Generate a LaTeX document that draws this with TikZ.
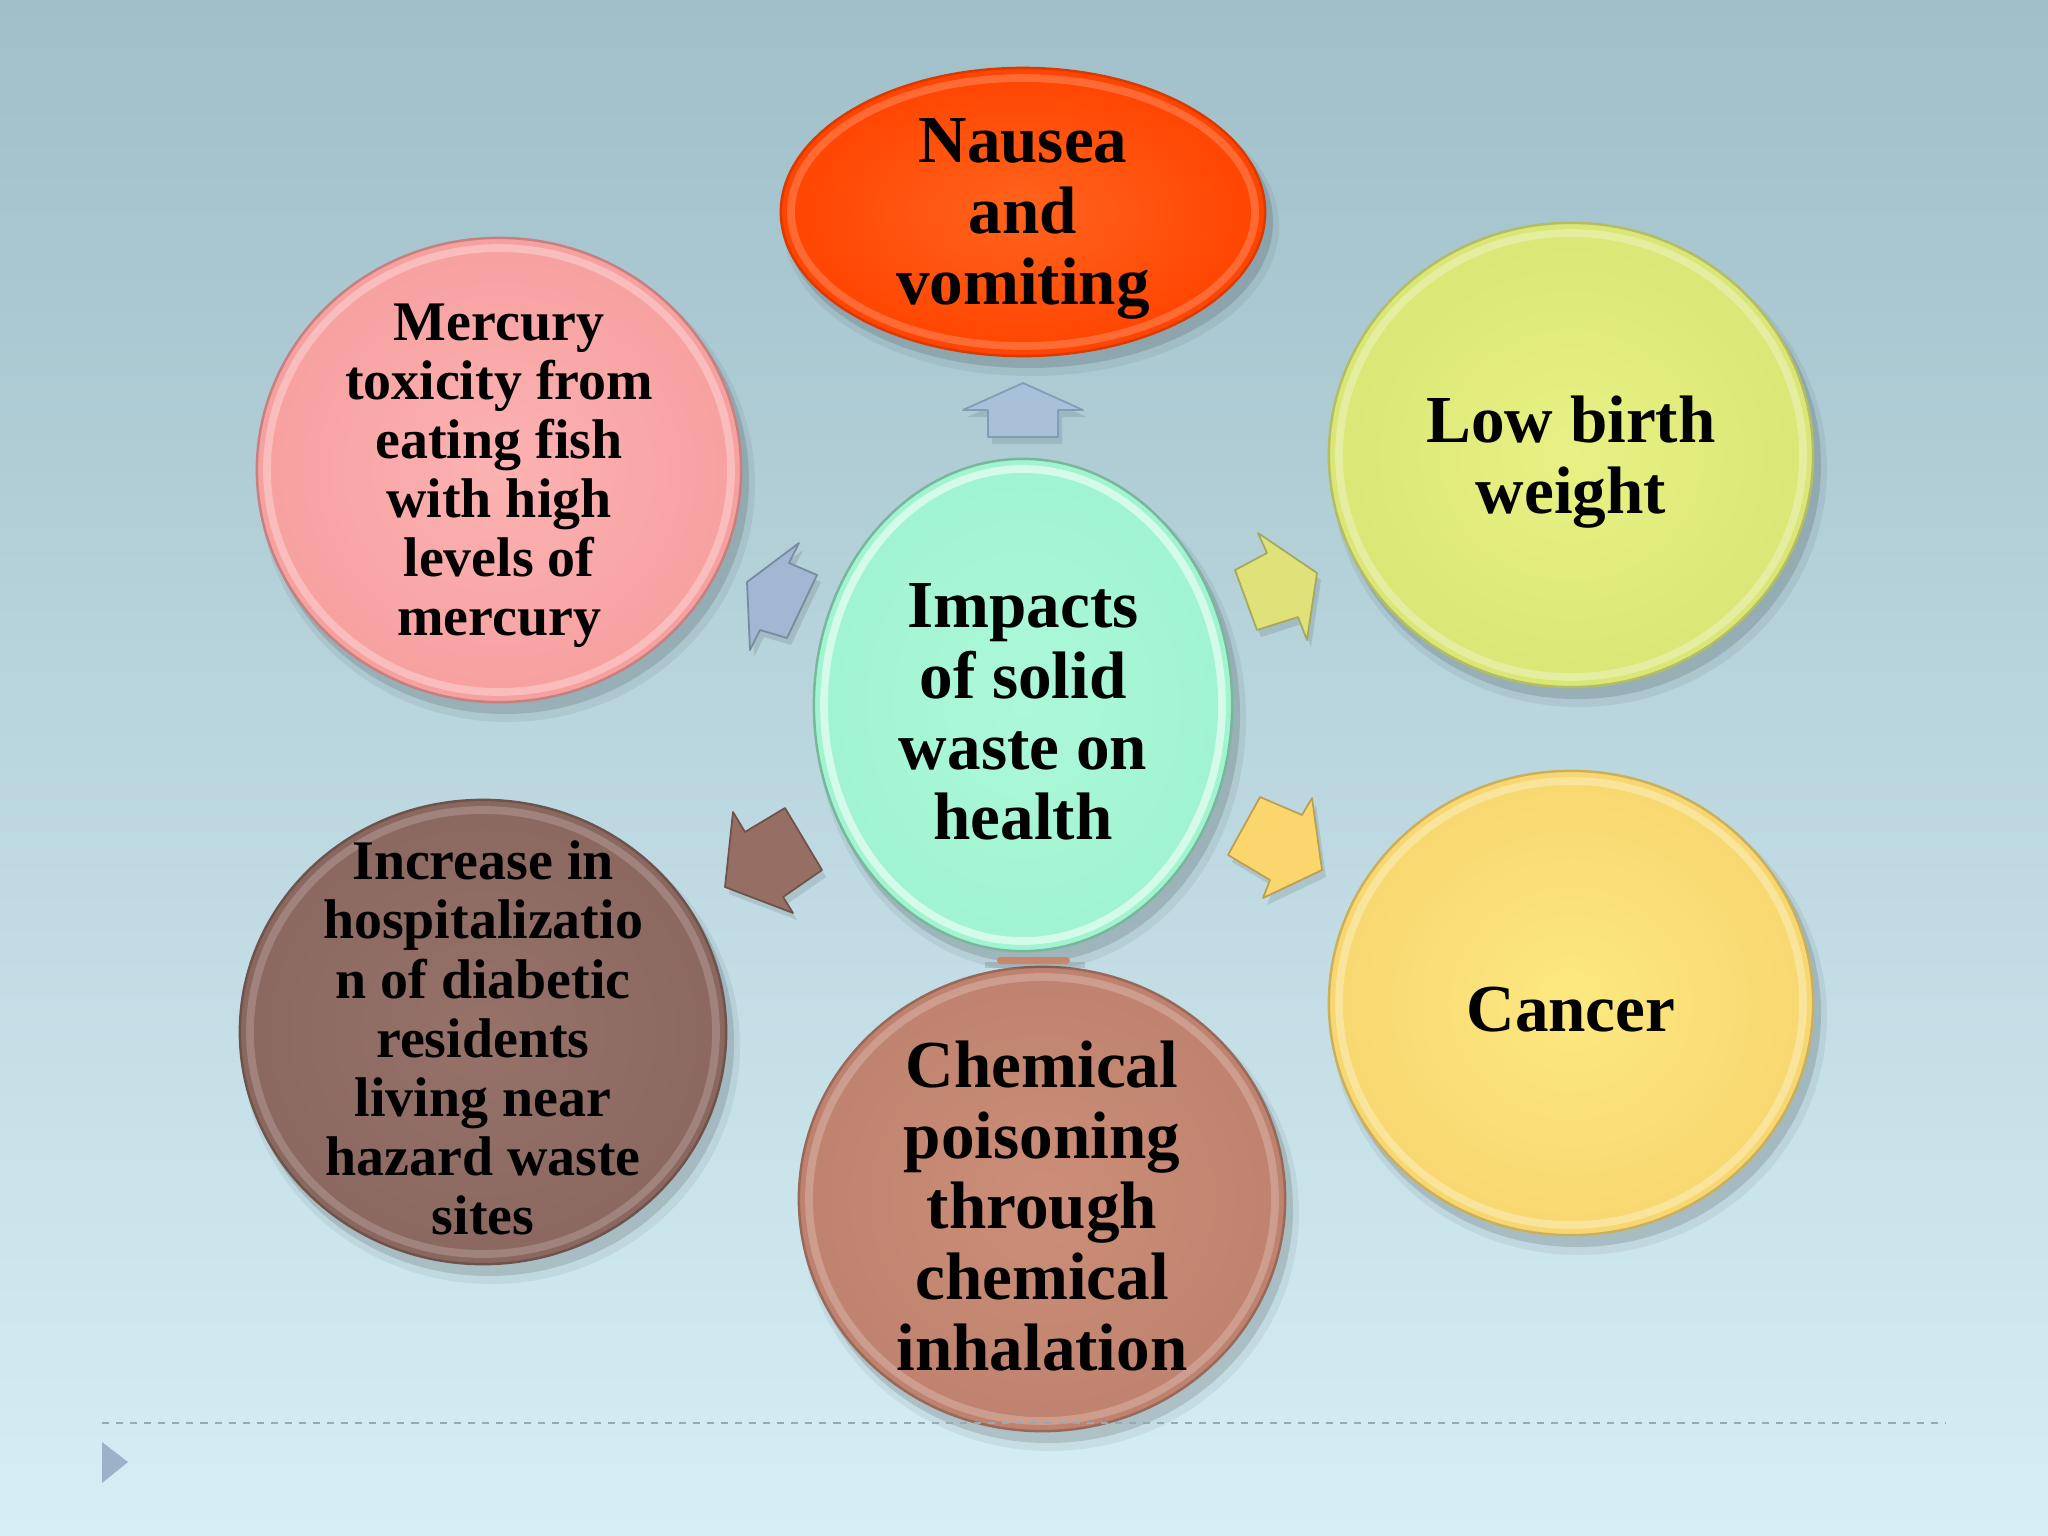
\documentclass[tikz,border=0pt]{standalone}
\usepackage{fontspec}
\setmainfont{Liberation Serif}
\usetikzlibrary{shapes.geometric}
\definecolor{bgtop}{RGB}{160,191,201}
\definecolor{bgbot}{RGB}{214,238,245}
\definecolor{nauseaC}{RGB}{255,68,0}
\definecolor{nauseaL}{RGB}{255,100,30}
\definecolor{mercC}{RGB}{247,160,160}
\definecolor{mercL}{RGB}{252,178,178}
\definecolor{lowC}{RGB}{218,230,118}
\definecolor{lowL}{RGB}{232,242,132}
\definecolor{centC}{RGB}{160,244,208}
\definecolor{centL}{RGB}{172,248,218}
\definecolor{incC}{RGB}{138,104,96}
\definecolor{incL}{RGB}{150,114,105}
\definecolor{chemC}{RGB}{190,130,110}
\definecolor{chemL}{RGB}{204,142,120}
\definecolor{cancC}{RGB}{248,215,112}
\definecolor{cancL}{RGB}{253,232,128}
\definecolor{arrBlue}{RGB}{168,192,216}
\definecolor{arrBlueD}{RGB}{130,155,182}
\definecolor{arrNW}{RGB}{160,184,210}
\definecolor{arrNE}{RGB}{222,226,120}
\definecolor{arrSE}{RGB}{250,214,108}
\definecolor{arrSW}{RGB}{150,110,100}
\definecolor{barC}{RGB}{200,135,105}
\definecolor{dashC}{RGB}{150,170,180}
\definecolor{triC}{RGB}{154,179,200}
\tikzset{
  bubble/.style={ellipse, inner sep=0pt, line width=0.7pt},
  shadowb/.style={fill=black, fill opacity=0.12},
  rim/.style={line width=2.2pt, draw opacity=0.3, draw=white},
  txtA/.style={align=center, inner sep=0pt, yshift=-0.07cm, font=\fontsize{19.1}{20.1}\selectfont\bfseries},
  txtB/.style={align=center, inner sep=0pt, yshift=-0.06cm, font=\fontsize{15.9}{16.8}\selectfont\bfseries},
  blockarrow/.style={line width=0.5pt, line join=round}
}
\begin{document}
\begin{tikzpicture}[x=0.01cm,y=-0.01cm]
\useasboundingbox (0,0) rectangle (2048,1536);
\shade[top color=bgtop,bottom color=bgbot] (0,0) rectangle (2048,1536);

% shadows
\foreach \cx/\cy/\rx/\ry in {1023/212/242/144, 499/470/242/232, 1571/455/242/232, 1023/705/209/246, 483/1032/243/232, 1042/1199/243/232, 1571/1003/242/232}{
  \fill[shadowb] (\cx+6,\cy+10) ellipse [x radius=\rx+2, y radius=\ry+2];
  \fill[black, opacity=0.06] (\cx+8,\cy+14) ellipse [x radius=\rx+6, y radius=\ry+6];
}

% bubbles
\node[bubble, draw=nauseaC!85!black, inner color=nauseaL, outer color=nauseaC, minimum width=4.84cm, minimum height=2.88cm] (nausea) at (1023,212) {};
\node[bubble, draw=mercC!80!black, inner color=mercL, outer color=mercC, minimum width=4.84cm, minimum height=4.64cm] (merc) at (499,470) {};
\node[bubble, draw=lowC!82!black, inner color=lowL, outer color=lowC, minimum width=4.84cm, minimum height=4.64cm] (low) at (1571,455) {};
\node[bubble, draw=centC!75!black, inner color=centL, outer color=centC, minimum width=4.18cm, minimum height=4.92cm] (cent) at (1023,705) {};
\node[bubble, draw=incC!80!black, inner color=incL, outer color=incC, minimum width=4.86cm, minimum height=4.64cm] (inc) at (483,1032) {};
\node[bubble, draw=chemC!80!black, inner color=chemL, outer color=chemC, minimum width=4.86cm, minimum height=4.64cm] (chem) at (1042,1199) {};
\node[bubble, draw=cancC!82!black, inner color=cancL, outer color=cancC, minimum width=4.84cm, minimum height=4.64cm] (canc) at (1571,1003) {};

% bevel rims
\draw[rim, draw opacity=0.2] (nausea.center) ellipse [x radius=232, y radius=134];
\draw[rim] (merc.center) ellipse [x radius=232, y radius=222];
\draw[rim] (low.center) ellipse [x radius=232, y radius=222];
\draw[rim, draw opacity=0.55] (cent.center) ellipse [x radius=199, y radius=236];
\draw[rim, draw opacity=0.18] (inc.center) ellipse [x radius=233, y radius=222];
\draw[rim, draw opacity=0.22] (chem.center) ellipse [x radius=233, y radius=222];
\draw[rim] (canc.center) ellipse [x radius=232, y radius=222];

% block arrows (shadows)
\begin{scope}[shift={(4,7)}]
\fill[black, opacity=0.1] (1023,383) -- (1083,410) -- (1058,410) -- (1058,437) -- (988,437) -- (988,410) -- (963,410) -- cycle;
\fill[black, opacity=0.1] (747,582) -- (799,543) -- (789,563) -- (817,575) -- (787,638) -- (760,630) -- (750,650) -- cycle;
\fill[black, opacity=0.1] (1317,573) -- (1307,640) -- (1298,617) -- (1257,630) -- (1235,570) -- (1267,553) -- (1258,533) -- cycle;
\fill[black, opacity=0.1] (1322,870) -- (1263,898) -- (1270,880) -- (1228,855) -- (1260,797) -- (1302,815) -- (1312,798) -- cycle;
\fill[black, opacity=0.1] (725,887) -- (733,812) -- (745,832) -- (785,808) -- (822,870) -- (783,897) -- (793,913) -- cycle;
\end{scope}
% block arrows
\filldraw[blockarrow, fill=arrBlue, draw=arrBlueD] (1023,383) -- (1083,410) -- (1058,410) -- (1058,437) -- (988,437) -- (988,410) -- (963,410) -- cycle;
\filldraw[blockarrow, fill=arrNW, draw=arrNW!75!black] (747,582) -- (799,543) -- (789,563) -- (817,575) -- (787,638) -- (760,630) -- (750,650) -- cycle;
\filldraw[blockarrow, fill=arrNE, draw=arrNE!75!black] (1317,573) -- (1307,640) -- (1298,617) -- (1257,630) -- (1235,570) -- (1267,553) -- (1258,533) -- cycle;
\filldraw[blockarrow, fill=arrSE, draw=arrSE!75!black] (1322,870) -- (1263,898) -- (1270,880) -- (1228,855) -- (1260,797) -- (1302,815) -- (1312,798) -- cycle;
\filldraw[blockarrow, fill=arrSW, draw=arrSW!75!black] (725,887) -- (733,812) -- (745,832) -- (785,808) -- (822,870) -- (783,897) -- (793,913) -- cycle;

% small flattened arrow between centre and chemical
\fill[black, opacity=0.12] (985,962) rectangle (1085,968);
\fill[barC, rounded corners=1pt] (997,957) rectangle (1070,964);

% texts
\node[txtA] (nauseaT) at (nausea.center) {Nausea\\and\\vomiting};
\node[txtB] (mercT) at (merc.center) {Mercury\\toxicity from\\eating fish\\with high\\levels of\\mercury};
\node[txtA] (lowT) at (low.center) {Low birth\\weight};
\node[txtA] (centT) at (cent.center) {Impacts\\of solid\\waste on\\health};
\node[txtB] (incT) at (inc.center) {Increase in\\hospitalizatio\\n of diabetic\\residents\\living near\\hazard waste\\sites};
\node[txtA] (chemT) at (chem.center) {Chemical\\poisoning\\through\\chemical\\inhalation};
\node[txtA] (cancT) at (canc.center) {Cancer};

% footer
\coordinate (dl) at (102,1423);
\coordinate (dr) at (1946,1423);
\draw[dashC, line width=0.6pt, dash pattern=on 2pt off 2pt] (dl) -- (dr);
\fill[triC] (102,1442) -- (128,1462) -- (102,1483) -- cycle;
\end{tikzpicture}
\end{document}
